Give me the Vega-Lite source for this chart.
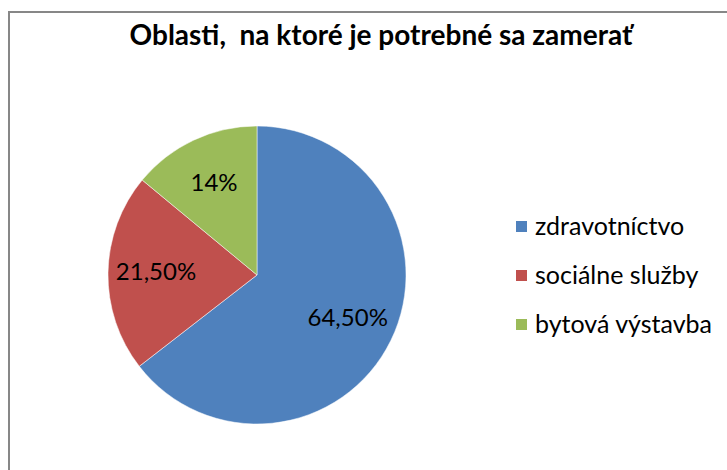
{
  "$schema": "https://vega.github.io/schema/vega-lite/v6.json",
  "width": 727,
  "height": 470,
  "autosize": {"type": "fit", "contains": "padding"},
  "padding": {"left": 9, "top": 12, "right": -26, "bottom": -20},
  "background": "white",
  "title": {
    "text": "Oblasti, \u00a0na ktoré je potrebné sa zamerať",
    "font": "Lato",
    "fontSize": 28,
    "fontWeight": "bold",
    "color": "#000000",
    "anchor": "middle",
    "frame": "group",
    "orient": "top",
    "baseline": "alphabetic",
    "offset": -61
  },
  "view": {"stroke": "#878787", "strokeWidth": 2},
  "data": {
    "values": [
      {"oblast": "zdravotníctvo", "value": 64.5, "label": "64,50%", "order": 1},
      {"oblast": "sociálne služby", "value": 21.5, "label": "21,50%", "order": 2},
      {"oblast": "bytová výstavba", "value": 14, "label": "14%", "order": 3}
    ]
  },
  "encoding": {
    "theta": {"field": "value", "type": "quantitative", "stack": true},
    "order": {"field": "order", "type": "quantitative"},
    "color": {
      "field": "oblast",
      "type": "nominal",
      "scale": {
        "domain": ["zdravotníctvo", "sociálne služby", "bytová výstavba"],
        "range": ["#4F81BD", "#C0504D", "#9BBB59"]
      },
      "legend": {
        "title": null,
        "orient": "none",
        "legendX": 500,
        "legendY": 202,
        "symbolType": "square",
        "symbolSize": 121,
        "symbolStrokeWidth": 0,
        "labelFont": "Lato",
        "labelFontSize": 25,
        "labelColor": "#000000",
        "labelOffset": 1,
        "labelLimit": 0,
        "rowPadding": 23
      }
    }
  },
  "layer": [
    {
      "mark": {"type": "arc", "radius": 149, "x": 248, "y": 263, "stroke": "white", "strokeWidth": 0.5}
    },
    {
      "mark": {"type": "text", "radius": 101, "x": 248, "y": 263, "font": "Lato", "fontSize": 24, "color": "#000000"},
      "encoding": {
        "text": {"field": "label", "type": "nominal"},
        "color": {"value": "#000000"}
      }
    }
  ]
}
